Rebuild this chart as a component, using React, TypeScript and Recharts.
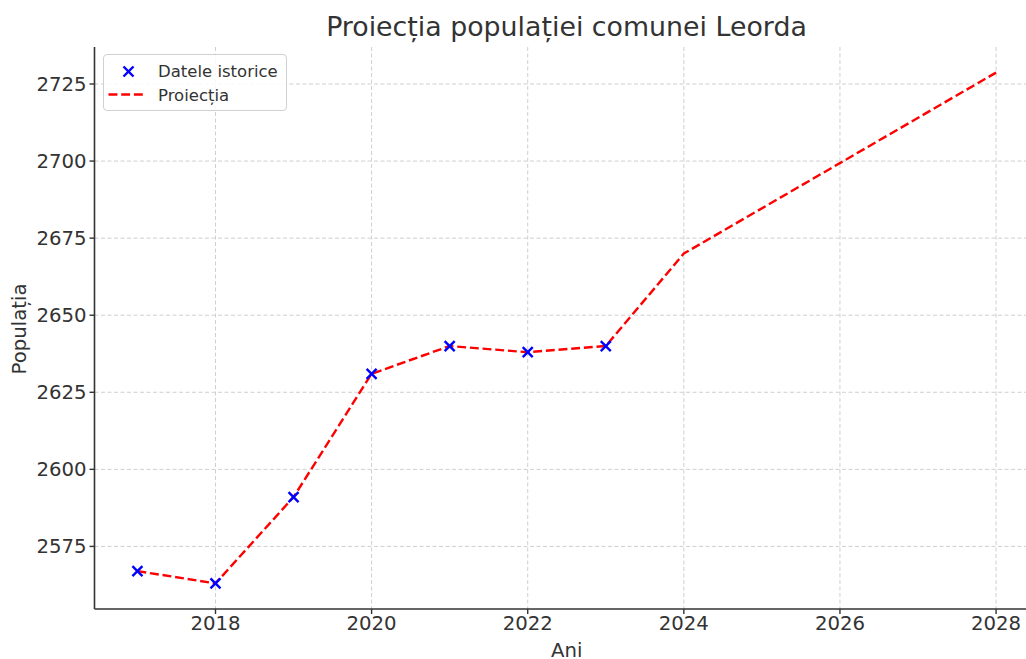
import React from 'react';
import {
  ComposedChart,
  Line,
  Scatter,
  XAxis,
  YAxis,
  CartesianGrid,
  Legend,
  Label,
  Customized,
} from 'recharts';

// Historical data (blue crosses)
const histYears = [2017, 2018, 2019, 2020, 2021, 2022, 2023];
const histValues = [2567, 2563, 2591, 2631, 2640, 2638, 2640];

// Projection line (red dashed)
const projYears = [2017, 2018, 2019, 2020, 2021, 2022, 2023, 2024, 2028];
const projValues = [2567, 2563, 2591, 2631, 2640, 2638, 2640, 2670, 2728.7];

const xTicks = [2018, 2020, 2022, 2024, 2026, 2028];
const yTicks = [2575, 2600, 2625, 2650, 2675, 2700, 2725];

const title = 'Proiecția populației comunei Leorda';
const xLabel = 'Ani';
const yLabel = 'Populația';
const histName = 'Datele istorice';
const projName = 'Proiecția';

const histData = histYears.map((year, i) => ({ year, pop: histValues[i] }));
const projData = projYears.map((year, i) => ({ year, pop: projValues[i] }));

const FONT = '"DejaVu Sans", sans-serif';
const TEXT = '#333333';
const AXIS = '#333333';

const CrossShape = (props: any) => {
  const { cx, cy } = props;
  if (cx == null || cy == null) return <g />;
  const r = 5;
  return (
    <g>
      <line x1={cx - r} y1={cy - r} x2={cx + r} y2={cy + r} stroke="#0000ff" strokeWidth={2.4} />
      <line x1={cx - r} y1={cy + r} x2={cx + r} y2={cy - r} stroke="#0000ff" strokeWidth={2.4} />
    </g>
  );
};

const renderLegend = () => (
  <div
    style={{
      boxSizing: 'border-box',
      width: 184,
      height: 57,
      border: '1px solid #d0d0d0',
      borderRadius: 4,
      background: 'rgba(255,255,255,0.85)',
      fontFamily: FONT,
      fontSize: 16.5,
      color: TEXT,
      position: 'relative',
    }}
  >
    <svg width={182} height={55} style={{ position: 'absolute', left: 0, top: 0 }}>
      <line x1={19.5} y1={11.5} x2={29.5} y2={21.5} stroke="#0000ff" strokeWidth={2.4} />
      <line x1={19.5} y1={21.5} x2={29.5} y2={11.5} stroke="#0000ff" strokeWidth={2.4} />
      <line x1={4.5} y1={39.5} x2={41} y2={39.5} stroke="#ff0000" strokeWidth={2.4} strokeDasharray="8.9 3.8" />
      <text x={54} y={21.5} fontSize={16.5} fill={TEXT} fontFamily={FONT}>
        {histName}
      </text>
      <text x={54} y={46} fontSize={16.5} fill={TEXT} fontFamily={FONT}>
        {projName}
      </text>
    </svg>
  </div>
);

const TitleText = (props: any) => {
  const ox = props.offset ? props.offset.left : 94.5;
  const ow = props.offset ? props.offset.width : 944;
  return (
    <text
      x={ox + ow / 2}
      y={36}
      textAnchor="middle"
      fontSize={26.8}
      fill={TEXT}
      fontFamily={FONT}
    >
      {title}
    </text>
  );
};

export default function App() {
  return (
    <div
      style={{
        position: 'absolute',
        left: 0,
        top: 0,
        width: 1026,
        height: 659,
        overflow: 'hidden',
        background: '#ffffff',
        fontFamily: FONT,
      }}
    >
      <ComposedChart
        width={1039}
        height={659}
        margin={{ top: 47, right: 0, bottom: 0, left: 0 }}
        style={{ fontFamily: FONT }}
      >
        <CartesianGrid
          stroke="#cfcfcf"
          strokeDasharray="4 2.5"
          strokeWidth={1}
          horizontalValues={yTicks}
          verticalValues={xTicks}
        />
        <XAxis
          type="number"
          dataKey="year"
          domain={[2016.45, 2028.55]}
          ticks={xTicks}
          allowDataOverflow
          height={50}
          axisLine={{ stroke: AXIS, strokeWidth: 1.6 }}
          tickLine={{ stroke: AXIS, strokeWidth: 1.4 }}
          tickSize={5}
          tickMargin={2}
          tick={{ fill: TEXT, fontSize: 19.7, fontFamily: FONT }}
        >
          <Label
            content={(p: any) => {
              const vb = p.viewBox || { x: 94.5, width: 944, y: 609, height: 50 };
              return (
                <text
                  x={vb.x + vb.width / 2}
                  y={656.5}
                  textAnchor="middle"
                  fontSize={19.7}
                  fill={TEXT}
                  fontFamily={FONT}
                >
                  {xLabel}
                </text>
              );
            }}
          />
        </XAxis>
        <YAxis
          type="number"
          dataKey="pop"
          domain={[2554.7, 2737]}
          ticks={yTicks}
          allowDataOverflow
          width={94.5}
          axisLine={{ stroke: AXIS, strokeWidth: 1.6 }}
          tickLine={{ stroke: AXIS, strokeWidth: 1.4 }}
          tickSize={5}
          tickMargin={3}
          tick={{ fill: TEXT, fontSize: 19.7, fontFamily: FONT }}
        >
          <Label
            content={(p: any) => {
              const vb = p.viewBox || { x: 0, y: 47, width: 94.5, height: 562 };
              const cx = 19.5;
              const cy = vb.y + vb.height / 2 + 1;
              return (
                <text
                  x={cx}
                  y={cy}
                  textAnchor="middle"
                  dominantBaseline="central"
                  transform={`rotate(-90, ${cx}, ${cy})`}
                  fontSize={19.7}
                  fill={TEXT}
                  fontFamily={FONT}
                >
                  {yLabel}
                </text>
              );
            }}
          />
        </YAxis>
        <Line
          data={projData}
          dataKey="pop"
          name={projName}
          type="linear"
          stroke="#ff0000"
          strokeWidth={2.4}
          strokeDasharray="8.9 3.8"
          dot={false}
          activeDot={false}
          isAnimationActive={false}
        />
        <Scatter
          data={histData}
          dataKey="pop"
          name={histName}
          shape={CrossShape}
          isAnimationActive={false}
        />
        <Legend
          layout="horizontal"
          verticalAlign="middle"
          align="center"
          content={renderLegend}
          wrapperStyle={{ left: 103, top: 54, width: 184, height: 57 }}
        />
        <Customized component={TitleText} />
      </ComposedChart>
    </div>
  );
}
